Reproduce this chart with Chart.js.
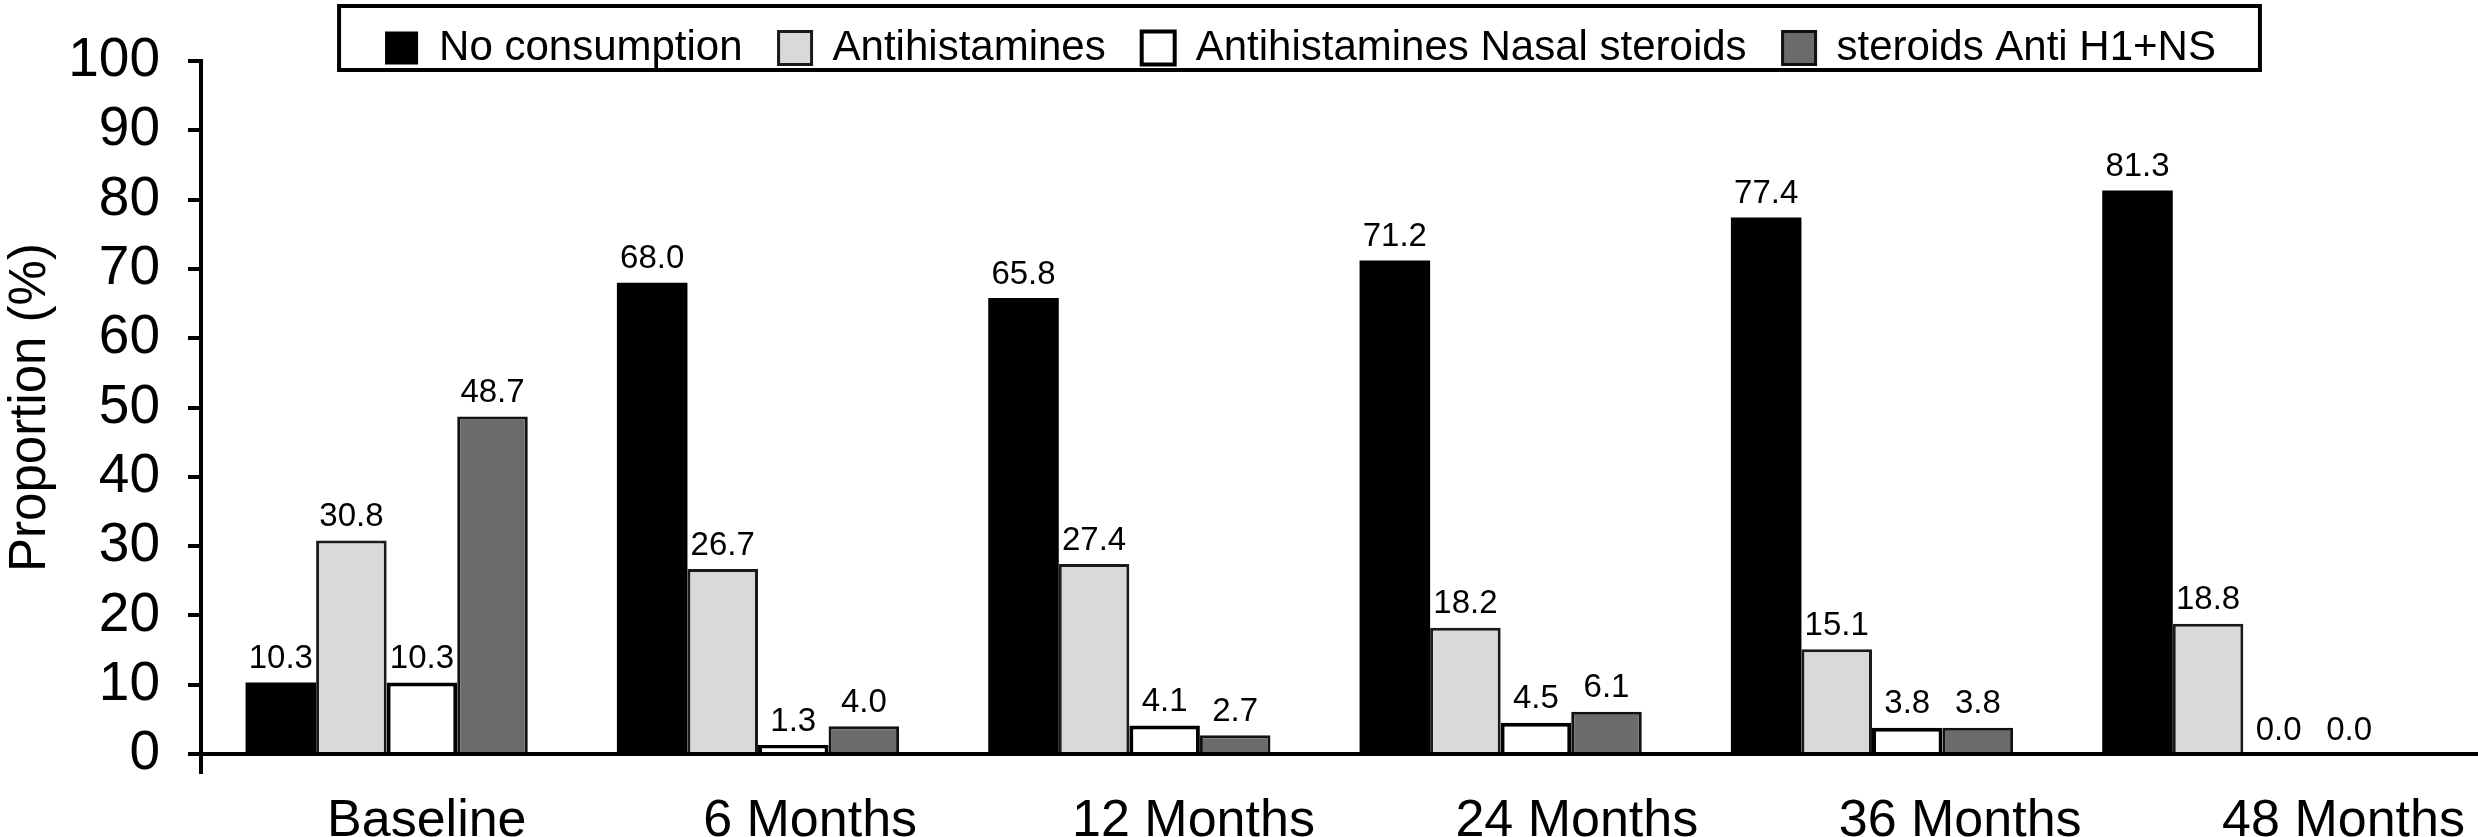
<!DOCTYPE html>
<html>
<head>
<meta charset="utf-8">
<script src="https://cdn.jsdelivr.net/npm/chart.js@4.4.0/dist/chart.umd.min.js"></script>
<style>
  html, body { margin: 0; padding: 0; background: #fff; }
  #wrap { width: 2478px; height: 837px; }
</style>
</head>
<body>
<div id="wrap"><canvas id="c" width="2478" height="837"></canvas></div>
<script>
const categories = ['Baseline', '6 Months', '12 Months', '24 Months', '36 Months', '48 Months'];
const seriesNames = ['No consumption', 'Antihistamines', 'Antihistamines Nasal steroids', 'steroids Anti H1+NS'];
const noConsumption = [10.3, 68.0, 65.8, 71.2, 77.4, 81.3];
const antihistamines = [30.8, 26.7, 27.4, 18.2, 15.1, 18.8];
const nasalSteroids = [10.3, 1.3, 4.1, 4.5, 3.8, 0.0];
const antiH1NS = [48.7, 4.0, 2.7, 6.1, 3.8, 0.0];
const yTicks = [0, 10, 20, 30, 40, 50, 60, 70, 80, 90, 100];

const SANS = "'Liberation Sans', Arial, Helvetica, sans-serif";

const LEGEND_H = 57;
const LABEL_AXIS_MIN = -0.589;
const LABEL_AXIS_MAX = 5.223;

const legendPlugin = {
  id: 'legendTweak',
  beforeLayout(chart) {
    const lg = chart.legend;
    if (lg && !lg._patched) {
      const orig = lg.fit;
      lg.fit = function () { orig.call(this); this.height = LEGEND_H; };
      lg._patched = true;
    }
  },
  afterLayout(chart) {
    const lg = chart.legend;
    if (!lg) return;
    const shift = 86;
    lg.left += shift; lg.right += shift;
    lg.top = -9; lg.bottom = 100;
  },
  afterDraw(chart) {
    const lg = chart.legend;
    if (!lg || !lg.legendHitBoxes || !lg.legendHitBoxes.length) return;
    const hb = lg.legendHitBoxes;
    let minL = Infinity, maxR = -Infinity;
    hb.forEach(h => { minL = Math.min(minL, h.left); maxR = Math.max(maxR, h.left + h.width); });
    const ctx = chart.ctx;
    ctx.save();
    ctx.strokeStyle = '#000';
    ctx.lineWidth = 4;
    ctx.strokeRect(minL - 46, 6, (maxR + 44) - (minL - 46), 64);
    ctx.restore();
  }
};

const axisPlugin = {
  id: 'axisExt',
  afterDatasetsDraw(chart) {
    const ctx = chart.ctx;
    const y = chart.scales.y;
    const ca = chart.chartArea;
    const y0 = y.getPixelForValue(0);
    ctx.save();
    ctx.strokeStyle = '#000';
    ctx.lineWidth = 4;
    ctx.beginPath();
    ctx.moveTo(ca.left - 13, y0);
    ctx.lineTo(chart.width, y0);
    ctx.moveTo(ca.left, y0);
    ctx.lineTo(ca.left, y0 + 20);
    ctx.stroke();
    ctx.restore();
  }
};

const valueLabels = {
  id: 'valueLabels',
  afterDatasetsDraw(chart) {
    const ctx = chart.ctx;
    ctx.save();
    ctx.font = '33px ' + SANS;
    ctx.fillStyle = '#000';
    ctx.textAlign = 'center';
    ctx.textBaseline = 'bottom';
    chart.data.datasets.forEach((ds, di) => {
      const meta = chart.getDatasetMeta(di);
      meta.data.forEach((el, i) => {
        const v = ds.data[i];
        ctx.fillText(v.toFixed(1), el.x, el.y - 7);
      });
    });
    ctx.restore();
  }
};

new Chart(document.getElementById('c'), {
  type: 'bar',
  data: {
    labels: categories,
    datasets: [
      { label: seriesNames[0], data: noConsumption, backgroundColor: '#000000', borderColor: '#000000', borderWidth: 0 },
      { label: seriesNames[1], data: antihistamines, backgroundColor: '#d9d9d9', borderColor: '#1a1a1a', borderWidth: 3 },
      { label: seriesNames[2], data: nasalSteroids, backgroundColor: '#ffffff', borderColor: '#000000', borderWidth: 4 },
      { label: seriesNames[3], data: antiH1NS, backgroundColor: '#6b6b6b', borderColor: '#111111', borderWidth: 3 }
    ]
  },
  options: {
    responsive: false,
    animation: false,
    devicePixelRatio: 1,
    layout: { padding: { left: 0, right: 49, top: 0, bottom: 0 } },
    datasets: { bar: { categoryPercentage: 0.76, barPercentage: 1.0, borderSkipped: 'start' } },
    plugins: {
      legend: {
        position: 'top',
        align: 'center',
        labels: {
          boxWidth: 33, boxHeight: 33, padding: 36,
          color: '#000',
          font: { family: SANS, size: 42 }
        }
      },
      tooltip: { enabled: false },
      title: { display: false }
    },
    scales: {
      x: {
        type: 'category',
        offset: true,
        grid: { display: false, drawTicks: false },
        border: { display: false },
        ticks: { display: false },
        afterFit(scale) { scale.height = 0; }
      },
      xLabels: {
        type: 'linear',
        position: 'bottom',
        offset: false,
        bounds: 'data',
        min: LABEL_AXIS_MIN,
        max: LABEL_AXIS_MAX,
        afterBuildTicks(scale) {
          scale.min = LABEL_AXIS_MIN;
          scale.max = LABEL_AXIS_MAX;
          scale.ticks = categories.map((c, i) => ({ value: i }));
        },
        grid: { display: false, drawTicks: false, offset: false },
        border: { display: false },
        ticks: {
          color: '#000',
          font: { family: SANS, size: 52 },
          padding: 36,
          maxRotation: 0, minRotation: 0, autoSkip: false,
          callback: (v) => categories[v]
        },
        afterFit(scale) {
          scale.height = 83;
          scale.paddingLeft = 0;
          scale.paddingRight = 0;
        }
      },
      y: {
        min: 0, max: 100,
        afterBuildTicks(scale) { scale.ticks = yTicks.map(v => ({ value: v })); },
        grid: { drawOnChartArea: false, drawTicks: true, tickLength: 13, lineWidth: 4, color: '#000' },
        border: { display: true, color: '#000', width: 4 },
        ticks: {
          color: '#000',
          font: { family: SANS, size: 55 },
          padding: 28,
          autoSkip: false
        },
        title: {
          display: true,
          text: 'Proportion (%)',
          color: '#000',
          font: { family: SANS, size: 51 },
          padding: { top: 0, bottom: 0 }
        },
        afterFit(scale) { scale.width = 201; }
      }
    }
  },
  plugins: [legendPlugin, axisPlugin, valueLabels]
});
</script>
</body>
</html>
